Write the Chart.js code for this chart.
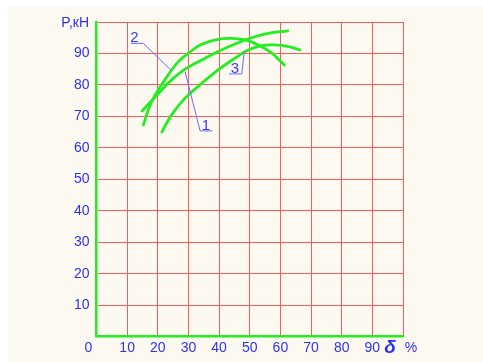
<!DOCTYPE html>
<html>
<head>
<meta charset="utf-8">
<script src="https://cdn.jsdelivr.net/npm/chart.js@4/dist/chart.umd.min.js"></script>
<style>
  html, body { margin: 0; padding: 0; background: #ffffff; }
  #wrap { width: 483px; height: 362px; position: relative; }
</style>
</head>
<body>
<div id="wrap"><canvas id="c" width="483" height="362"></canvas></div>
<script>
// ---- data ----
const xTicks = [0, 10, 20, 30, 40, 50, 60, 70, 80, 90, 100];
const yTicks = [0, 10, 20, 30, 40, 50, 60, 70, 80, 90, 100];
const xAxisTitle = ['δ', '%'];
const yAxisTitle = 'P,кН';
const originLabel = '0';

const curve1X = [14.9, 20.2, 24.5, 28.9, 34.3, 39.7, 45.2, 50.6, 56.0, 62.4];
const curve1Y = [71.7, 77.3, 81.6, 85.0, 87.9, 90.6, 93.0, 95.0, 96.4, 97.2];

const curve2X = [15.3, 18.0, 23.4, 26.7, 30.0, 34.3, 39.7, 44.1, 48.5, 52.8, 57.2, 61.3];
const curve2Y = [67.3, 74.7, 83.2, 87.4, 90.1, 92.9, 94.5, 94.8, 94.3, 92.7, 90.1, 86.3];

const curve3X = [21.3, 24.5, 28.9, 34.3, 39.7, 45.2, 49.5, 53.9, 58.2, 62.6, 66.4];
const curve3Y = [65.0, 70.5, 75.8, 80.5, 84.8, 88.5, 91.1, 92.5, 92.7, 92.2, 91.1];

// leader lines (callouts) and their labels
const leader1X = [28.9, 33.8, 37.8];
const leader1Y = [84.2, 65.4, 65.4];
const leader2X = [24.3, 15.3, 11.2];
const leader2Y = [84.7, 93.2, 93.2];
const leader3X = [48.2, 47.4, 43.2];
const leader3Y = [90.6, 83.5, 83.5];
const calloutNames = ['1', '2', '3'];
const calloutX = [35.7, 12.4, 45.2];
const calloutY = [65.4, 93.2, 83.5];

const pts = (xs, ys) => xs.map((x, i) => ({ x: x, y: ys[i] }));

const BLUE = '#3030f0';
const GREEN = '#22ee22';
const RED = '#ff5a5a';
const FONT = '"Liberation Sans", Arial, sans-serif';

const bgPlugin = {
  id: 'bg',
  beforeDraw(chart) {
    const ctx = chart.ctx;
    ctx.save();
    ctx.fillStyle = '#fcf9f0';
    ctx.fillRect(8, 7, chart.width - 8, chart.height - 7);
    ctx.restore();
  }
};

const textPlugin = {
  id: 'texts',
  afterDraw(chart) {
    const ctx = chart.ctx;
    const xs = chart.scales.x, ys = chart.scales.y;
    ctx.save();
    ctx.fillStyle = BLUE;
    ctx.textBaseline = 'middle';
    // y-axis title
    ctx.font = '14px ' + FONT;
    ctx.textAlign = 'right';
    ctx.fillText(yAxisTitle, 89, ys.getPixelForValue(100) + 1);
    // origin
    ctx.textAlign = 'center';
    ctx.fillText(originLabel, xs.getPixelForValue(0) - 8, 348);
    // x-axis title
    ctx.font = 'bold italic 19px ' + FONT;
    ctx.fillText(xAxisTitle[0], xs.getPixelForValue(100) - 13, 348);
    ctx.font = '14px ' + FONT;
    ctx.fillText(xAxisTitle[1], xs.getPixelForValue(100) + 8, 348);
    // callout numbers, sitting on their underlines
    ctx.font = '15px ' + FONT;
    ctx.fillStyle = '#3a3aff';
    ctx.textBaseline = 'alphabetic';
    for (let i = 0; i < calloutNames.length; i++) {
      ctx.fillText(calloutNames[i], xs.getPixelForValue(calloutX[i]), ys.getPixelForValue(calloutY[i]) - 1);
    }
    ctx.restore();
  }
};

const curveStyle = {
  showLine: true, borderColor: GREEN, borderWidth: 2.8, pointRadius: 0,
  tension: 0.4, fill: false, borderCapStyle: 'round'
};
const leaderStyle = {
  showLine: true, borderColor: '#6b6bff', borderWidth: 1, pointRadius: 0, tension: 0, fill: false
};

new Chart(document.getElementById('c'), {
  type: 'scatter',
  data: {
    datasets: [
      Object.assign({ label: 'leader 1', data: pts(leader1X, leader1Y) }, leaderStyle),
      Object.assign({ label: 'leader 2', data: pts(leader2X, leader2Y) }, leaderStyle),
      Object.assign({ label: 'leader 3', data: pts(leader3X, leader3Y) }, leaderStyle),
      Object.assign({ label: '1', data: pts(curve1X, curve1Y) }, curveStyle),
      Object.assign({ label: '2', data: pts(curve2X, curve2Y) }, curveStyle),
      Object.assign({ label: '3', data: pts(curve3X, curve3Y) }, curveStyle)
    ]
  },
  options: {
    responsive: false,
    animation: false,
    layout: { padding: { top: 22, right: 80, left: 0, bottom: 0 } },
    plugins: { legend: { display: false }, tooltip: { enabled: false } },
    scales: {
      x: {
        type: 'linear', min: 0, max: 100,
        afterBuildTicks: s => { s.ticks = xTicks.map(v => ({ value: v })); },
        afterFit: s => { s.height = 25.3; },
        grid: { color: RED, lineWidth: 1, drawTicks: false },
        border: { color: GREEN, width: 2.5 },
        ticks: {
          color: BLUE, padding: 3, maxRotation: 0, autoSkip: false,
          font: { family: FONT, size: 14 },
          callback: v => (v === 0 || v === 100) ? '' : String(v)
        }
      },
      y: {
        type: 'linear', min: 0, max: 100,
        afterBuildTicks: s => { s.ticks = yTicks.map(v => ({ value: v })); },
        afterFit: s => { s.width = 96.5; },
        grid: { color: RED, lineWidth: 1, drawTicks: false },
        border: { color: GREEN, width: 2.5 },
        ticks: {
          color: BLUE, padding: 7, autoSkip: false,
          font: { family: FONT, size: 14 },
          callback: v => (v === 0 || v === 100) ? '' : String(v)
        }
      }
    }
  },
  plugins: [bgPlugin, textPlugin]
});
</script>
</body>
</html>
